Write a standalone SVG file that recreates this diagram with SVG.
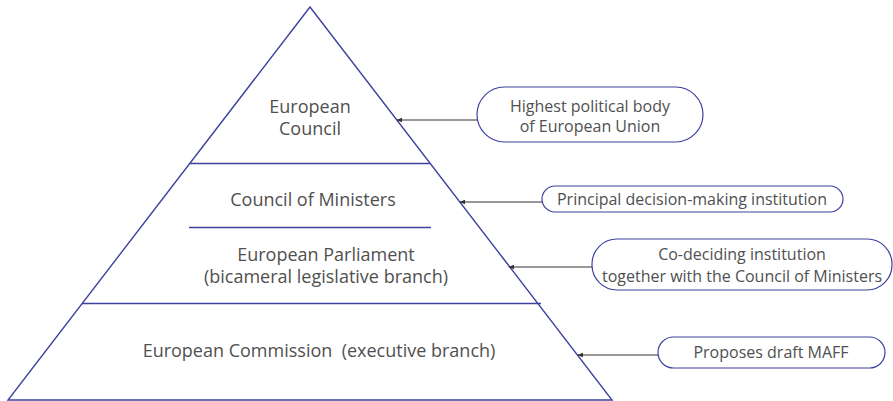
<svg xmlns="http://www.w3.org/2000/svg" width="893" height="401" viewBox="0 0 893 401">
  <style>
    .edge { fill: none; stroke: #3d41a0; stroke-width: 1.4; }
    .tier { font-family: "Open Sans", "Noto Sans", sans-serif; font-size: 18px; fill: #505050; text-anchor: middle; }
    .note { font-family: "Open Sans", "Noto Sans", sans-serif; font-size: 16px; fill: #505050; text-anchor: middle; }
    .box { fill: #ffffff; stroke: #3d41a0; stroke-width: 1.2; }
    .link { stroke: #333333; stroke-width: 1; fill: none; marker-end: url(#tip); }
  </style>
  <defs>
    <marker id="tip" viewBox="0 0 10 10" refX="9" refY="5" markerWidth="6" markerHeight="6" orient="auto" markerUnits="userSpaceOnUse">
      <path d="M0,1 L10,5 L0,9 z" fill="#333333"/>
    </marker>
  </defs>
  <rect width="893" height="401" fill="#ffffff"/>

  <!-- pyramid outline and tier dividers -->
  <g id="pyramid">
    <polygon class="edge" points="310,7 612,400 8,400"/>
    <line class="edge" x1="190" y1="163.5" x2="430" y2="163.5"/>
    <line class="edge" x1="189" y1="227.5" x2="431" y2="227.5"/>
    <line class="edge" x1="82" y1="303.5" x2="541" y2="303.5"/>
  </g>

  <g id="european-council">
    <text class="tier" x="310" y="113">European</text>
    <text class="tier" x="310" y="135">Council</text>
  </g>
  <g id="council-of-ministers">
    <text class="tier" x="313" y="206">Council of Ministers</text>
  </g>
  <g id="european-parliament">
    <text class="tier" x="326" y="261">European Parliament</text>
    <text class="tier" x="326" y="283">(bicameral legislative branch)</text>
  </g>
  <g id="european-commission">
    <text class="tier" x="319" y="357" xml:space="preserve">European Commission  (executive branch)</text>
  </g>

  <!-- callouts -->
  <g id="note-highest">
    <rect class="box" x="477" y="87" width="226" height="55" rx="27.5"/>
    <text class="note" x="590" y="112">Highest political body</text>
    <text class="note" x="590" y="132">of European Union</text>
  </g>
  <g id="note-principal">
    <rect class="box" x="542" y="186" width="301" height="26" rx="13"/>
    <text class="note" x="692" y="205">Principal decision-making institution</text>
  </g>
  <g id="note-codeciding">
    <rect class="box" x="592" y="239" width="300" height="51" rx="25"/>
    <text class="note" x="742" y="260">Co-deciding institution</text>
    <text class="note" x="742" y="282">together with the Council of Ministers</text>
  </g>
  <g id="note-proposes">
    <rect class="box" x="658" y="337" width="227" height="31" rx="15.5"/>
    <text class="note" x="771" y="358">Proposes draft MAFF</text>
  </g>

  <g id="connectors">
    <line class="link" x1="477" y1="120" x2="397" y2="120"/>
    <line class="link" x1="542" y1="202" x2="460" y2="202"/>
    <line class="link" x1="592" y1="267" x2="509" y2="267"/>
    <line class="link" x1="658" y1="355" x2="578" y2="355"/>
  </g>
</svg>
